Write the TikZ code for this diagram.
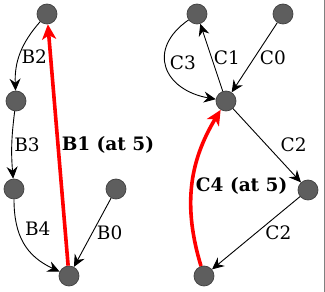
\documentclass[tikz,border=0pt]{standalone}
\usepackage{fontspec}
\setmainfont{DejaVu Serif}
\usetikzlibrary{arrows.meta,positioning}

\begin{document}
\begin{tikzpicture}[x=1pt, y=1pt, >={Stealth[length=12pt, width=11pt, inset=4pt]},
  every node/.style={font=\fontsize{18.5}{20}\selectfont, text=black},
  vtx/.style={circle, fill=black!63, draw=black!75, line width=0.7pt, minimum size=20pt, inner sep=0pt},
  edge/.style={->, line width=0.9pt},
  hot/.style={-{Stealth[length=15pt, width=14pt, inset=4pt]}, red, line width=3.6pt},
  lbl/.style={inner sep=2pt},
  hotlbl/.style={inner sep=2pt, font=\fontsize{18.5}{20}\selectfont\bfseries}]
  \useasboundingbox (0,0) rectangle (325,292);
  \draw[black!50, line width=1.2pt] (324.4,0) -- (324.4,292);

  % B chain
  \node[vtx] (b5) at (47,278) {};
  \node[vtx] (b2) at (16,191) {};
  \node[vtx] (b3) at (14,103) {};
  \node[vtx] (b0) at (116,103) {};
  \node[vtx] (bx) at (69,16) {};

  \draw[edge] (b5) to[bend right=22] node[lbl, pos=.55, anchor=west] {B2} (b2);
  \draw[edge] (b2) to[bend right=6] node[lbl, pos=.5, anchor=west] {B3} (b3);
  \draw[edge] (b3) to[out=-90, in=155, looseness=1.1] node[lbl, pos=.3, anchor=west, xshift=5pt] {B4} (bx);
  \draw[edge] (b0) -- node[lbl, pos=.5, anchor=west, xshift=2pt] {B0} (bx);
  \draw[hot] (bx) -- node[hotlbl, pos=.5, anchor=west] {B1 (at 5)} (b5);

  % C chain
  \node[vtx] (c3) at (197,278) {};
  \node[vtx] (c0) at (283,278) {};
  \node[vtx] (cm) at (226,191) {};
  \node[vtx] (cr) at (308,102) {};
  \node[vtx] (cb) at (204,16) {};

  \draw[edge] (cm) -- node[lbl, pos=.5, anchor=west] {C1} (c3);
  \draw[edge] (c3) to[out=215, in=170, looseness=1.6] node[lbl, pos=.45, anchor=west, xshift=2pt] {C3} (cm);
  \draw[edge] (c0) -- node[lbl, pos=.5, anchor=west, xshift=3pt] {C0} (cm);
  \draw[edge] (cm) -- node[lbl, pos=.62, anchor=south west, xshift=3pt] {C2} (cr);
  \draw[edge] (cr) -- node[lbl, pos=.5, anchor=west, xshift=7pt] {C2} (cb);
  \draw[hot] (cb) to[bend left=24] node[hotlbl, pos=.5, anchor=west] {C4 (at 5)} (cm);
\end{tikzpicture}
\end{document}
